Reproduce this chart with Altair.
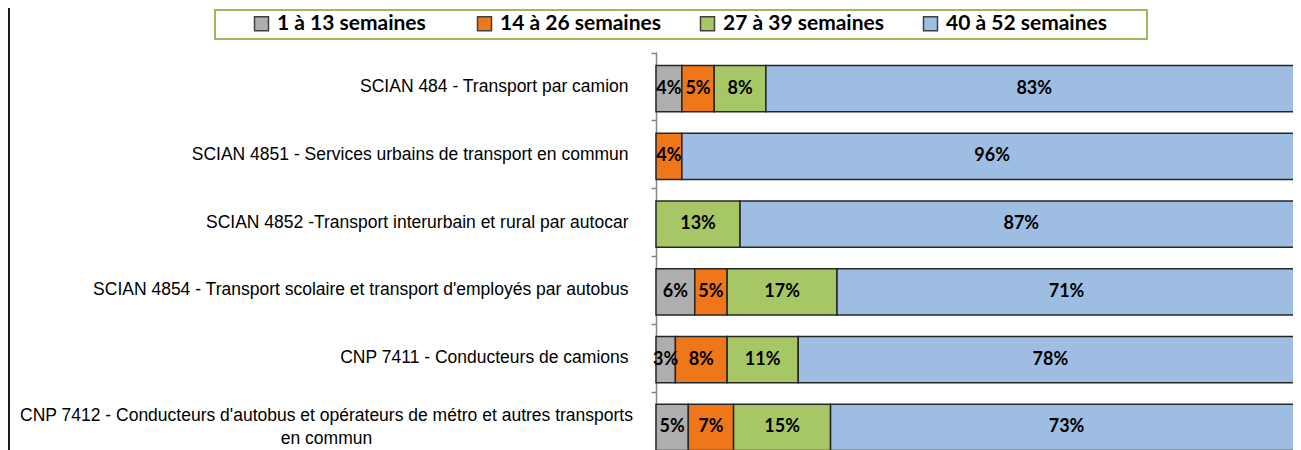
import altair as alt
import pandas as pd

categories = [
    "SCIAN 484 - Transport par camion",
    "SCIAN 4851 - Services urbains de transport en commun",
    "SCIAN 4852 -Transport interurbain et rural par autocar",
    "SCIAN 4854 - Transport scolaire et transport d'employés par autobus",
    "CNP 7411 - Conducteurs de camions",
    "CNP 7412 - Conducteurs d'autobus et opérateurs de métro et autres transports\nen commun",
]
series_names = ["1 à 13 semaines", "14 à 26 semaines", "27 à 39 semaines", "40 à 52 semaines"]
s1 = [4, 0, 0, 6, 3, 5]
s2 = [5, 4, 0, 5, 8, 7]
s3 = [8, 0, 13, 17, 11, 15]
s4 = [83, 96, 87, 71, 78, 73]
colors = ["#AEAEAE", "#EF7719", "#A7C766", "#9EBDE2"]

rows = []
for j, (name, vals) in enumerate(zip(series_names, [s1, s2, s3, s4])):
    for cat, v in zip(categories, vals):
        if v > 0:
            rows.append({"category": cat, "series": name, "value": v, "order": j})
df = pd.DataFrame(rows)

H = 412            # plot height (bottom part is cropped like the original)
W = 637            # visible plot width (page is 1301 px wide)
FULL_W = 646.5     # width that 100 % would take in the original (cropped at right)
x_max = 100 * W / FULL_W
P_IN, P_OUT = 0.32, 0.20
step = H / (len(categories) - P_IN + 2 * P_OUT)
half_step = step / 2
yscale = alt.Scale(domain=categories, paddingInner=P_IN, paddingOuter=P_OUT)
is_multi = "indexof(datum.value, 'CNP 7412') >= 0"

base = alt.Chart(df).transform_stack(
    stack="value", groupby=["category"], as_=["x0", "x1"],
    sort=[alt.SortField("order", order="ascending")]
)

yaxis = alt.Axis(
    title=None,
    labelFont="Liberation Sans",
    labelFontSize=17.5,
    labelColor="black",
    labelLimit=1000,
    labelLineHeight=23,
    labelExpr="split(datum.label, '\\n')",
    labelAlign={"condition": {"test": is_multi, "value": "center"}, "value": "right"},
    labelPadding={"condition": {"test": is_multi, "value": 325}, "value": 23},
    labelOffset={"condition": {"test": is_multi, "value": half_step - 10}, "value": half_step},
    domainColor="#868686",
    domainWidth=1.5,
    tickColor="#868686",
    tickWidth=1.5,
    tickSize=5,
    tickOffset=-half_step - 2,
)

bars = base.mark_bar(stroke="#262626", strokeWidth=1.5).encode(
    y=alt.Y("category:N", sort=categories, scale=yscale, axis=yaxis),
    x=alt.X("x0:Q", scale=alt.Scale(domain=[0, x_max], nice=False, zero=True), axis=None),
    x2="x1:Q",
    color=alt.Color(
        "series:N",
        sort=series_names,
        scale=alt.Scale(domain=series_names, range=colors),
        legend=alt.Legend(
            title=None,
            orient="none",
            direction="horizontal",
            columns=4,
            gridAlign="all",
            legendX=-405,
            legendY=-39,
            padding=0,
            columnPadding=36,
            symbolType="square",
            symbolSize=196,
            symbolStrokeColor="#404040",
            symbolStrokeWidth=1.5,
            symbolOpacity=1,
            labelFont="Lato",
            labelFontWeight="bold",
            labelFontSize=21,
            labelColor="black",
            labelOffset=5,
            labelLimit=400,
        ),
    ),
)

labels = base.transform_calculate(
    mid="(datum.x0 + datum.x1) / 2", label="datum.value + '%'"
).mark_text(font="Lato", fontWeight="bold", fontSize=18, color="black").encode(
    y=alt.Y("category:N", sort=categories, scale=yscale),
    x=alt.X("mid:Q"),
    text="label:N",
)

legend_box = alt.Chart(df).mark_rect(fillOpacity=0, stroke="#9BBB59", strokeWidth=2).encode(
    x=alt.value(-441), x2=alt.value(491), y=alt.value(-42), y2=alt.value(-13)
)
left_border = alt.Chart(df).mark_rule(color="#1a1a1a", strokeWidth=2).encode(
    x=alt.value(-647), y=alt.value(-44), y2=alt.value(420)
)

chart = alt.layer(bars, labels, legend_box, left_border).properties(
    width=W,
    height=H,
    autosize=alt.AutoSizeParams(type="none"),
    padding={"left": 648, "top": 44, "right": 0, "bottom": 0},
).configure_view(stroke=None)

chart.save("out.html", embed_options={"renderer": "svg", "actions": False})
